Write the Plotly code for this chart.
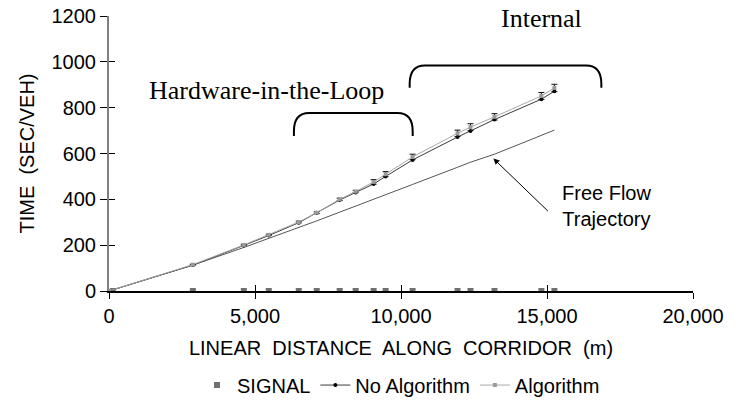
import plotly.graph_objects as go

# signal locations along corridor (m)
signal_x = [130, 2873, 4617, 5472, 6498, 7114, 7900, 8447, 9063, 9473,
            10397, 11936, 12380, 13201, 14808, 15253]
signal_y = [0] * len(signal_x)

# travel time trajectories (sec/veh)
dist = [0, 2873, 4617, 5472, 6498, 7114, 7900, 8447, 9063, 9473,
        10397, 11936, 12380, 13201, 14808, 15253]
no_algo = [0, 113, 199, 242, 298, 340, 397, 430, 467, 500,
           572, 672, 698, 748, 837, 872]
algo = [0, 115, 201, 245, 301, 342, 400, 434, 476, 510,
        585, 688, 715, 760, 851, 886]
algo_err = [0, 2, 3, 3, 4, 4, 5, 5, 10, 11, 12, 14, 15, 14, 15, 16]
free_flow = [0, 113, 190, 229, 277, 306, 344, 370, 400, 420,
             465, 540, 562, 597, 680, 702]

x_ticks = [0, 5000, 10000, 15000, 20000]
x_tick_text = ["0", "5,000", "10,000", "15,000", "20,000"]

FONT = "Arial, Liberation Sans, sans-serif"
SERIF = "Times New Roman, Liberation Serif, serif"

fig = go.Figure()

fig.add_trace(go.Scatter(
    x=dist, y=free_flow, mode="lines", showlegend=False,
    line=dict(color="#555555", width=1), hoverinfo="skip"))

fig.add_trace(go.Scatter(
    x=signal_x, y=signal_y, mode="markers", name="SIGNAL",
    marker=dict(symbol="square", size=6, color="#707070")))

fig.add_trace(go.Scatter(
    x=dist, y=no_algo, mode="lines+markers", name="No Algorithm",
    line=dict(color="#3a3a3a", width=1),
    marker=dict(symbol="circle", size=4, color="#000000")))

fig.add_trace(go.Scatter(
    x=dist, y=algo, mode="lines+markers", name="Algorithm",
    line=dict(color="#a8a8a8", width=1),
    marker=dict(symbol="square", size=4, color="#9a9a9a"),
    error_y=dict(type="data", array=algo_err, color="#111111",
                 thickness=1, width=3)))

# invisible trace to carry the overlay axes (for crossing ticks)
fig.add_trace(go.Scatter(x=[0], y=[0], xaxis="x2", yaxis="y2",
                         mode="markers", marker=dict(opacity=0),
                         showlegend=False, hoverinfo="skip"))


def bracket(x0, x1, yt, yb, rx, ry):
    return (f"M {x0},{yb} L {x0},{yt - ry} Q {x0},{yt} {x0 + rx},{yt} "
            f"L {x1 - rx},{yt} Q {x1},{yt} {x1},{yt - ry} L {x1},{yb}")


fig.add_shape(type="path", xref="x", yref="y",
              path=bracket(6333, 10400, 777, 676, 520, 80),
              line=dict(color="black", width=2))
fig.add_shape(type="path", xref="x", yref="y",
              path=bracket(10297, 16861, 984, 887, 520, 80),
              line=dict(color="black", width=2))

fig.add_annotation(x=5380, y=876, xref="x", yref="y", showarrow=False,
                   text="Hardware-in-the-Loop",
                   font=dict(family=SERIF, size=26, color="black"))
fig.add_annotation(x=14820, y=1188, xref="x", yref="y", showarrow=False,
                   text="Internal",
                   font=dict(family=SERIF, size=26, color="black"))
fig.add_annotation(x=13165, y=578, xref="x", yref="y",
                   ax=56, ay=54, showarrow=True, arrowhead=2,
                   arrowsize=1.2, arrowwidth=1, arrowcolor="black",
                   text="")
fig.add_annotation(x=17050, y=372, xref="x", yref="y", showarrow=False,
                   text="Free Flow<br>Trajectory", align="center",
                   font=dict(family=FONT, size=20, color="black"))

fig.update_layout(
    width=736, height=416,
    margin=dict(l=109, r=43, t=16, b=116),
    paper_bgcolor="white", plot_bgcolor="white",
    font=dict(family=FONT, size=20, color="black"),
    xaxis=dict(range=[0, 20000], tickvals=x_ticks, ticktext=x_tick_text,
               showgrid=False, zeroline=False, showline=True,
               linecolor="black", linewidth=1.5, automargin=False,
               ticks="outside", ticklen=6, tickcolor="black",
               ticklabelstandoff=0,
               title=dict(text="LINEAR\u00a0 DISTANCE\u00a0 ALONG\u00a0 "
                               "CORRIDOR\u00a0 (m)",
                          standoff=15, font=dict(size=20))),
    yaxis=dict(range=[0, 1200], dtick=200, showgrid=False, zeroline=False,
               showline=True, linecolor="#808080", linewidth=2,
               automargin=False,
               ticks="outside", ticklen=7, tickcolor="black",
               title=dict(text="TIME\u00a0 (SEC/VEH)", standoff=12,
                          font=dict(size=20))),
    xaxis2=dict(range=[0, 20000], overlaying="x", anchor="y",
                tickvals=x_ticks, automargin=False,
                showticklabels=False, showgrid=False, zeroline=False,
                ticks="inside", ticklen=6, tickcolor="black"),
    yaxis2=dict(range=[0, 1200], overlaying="y", anchor="x", side="left",
                dtick=200, showticklabels=False, showgrid=False,
                automargin=False,
                zeroline=False, ticks="inside", ticklen=6,
                tickcolor="black"),
    legend=dict(orientation="h", x=0.5, xanchor="center", y=-0.342,
                yanchor="middle", font=dict(size=20),
                itemwidth=30, tracegroupgap=0),
)

# drop the browser's default page margin so the figure sits at (0, 0)
fig.write_html("out.html",
               config={"displayModeBar": False},
               post_script="document.body.style.margin='0';")
